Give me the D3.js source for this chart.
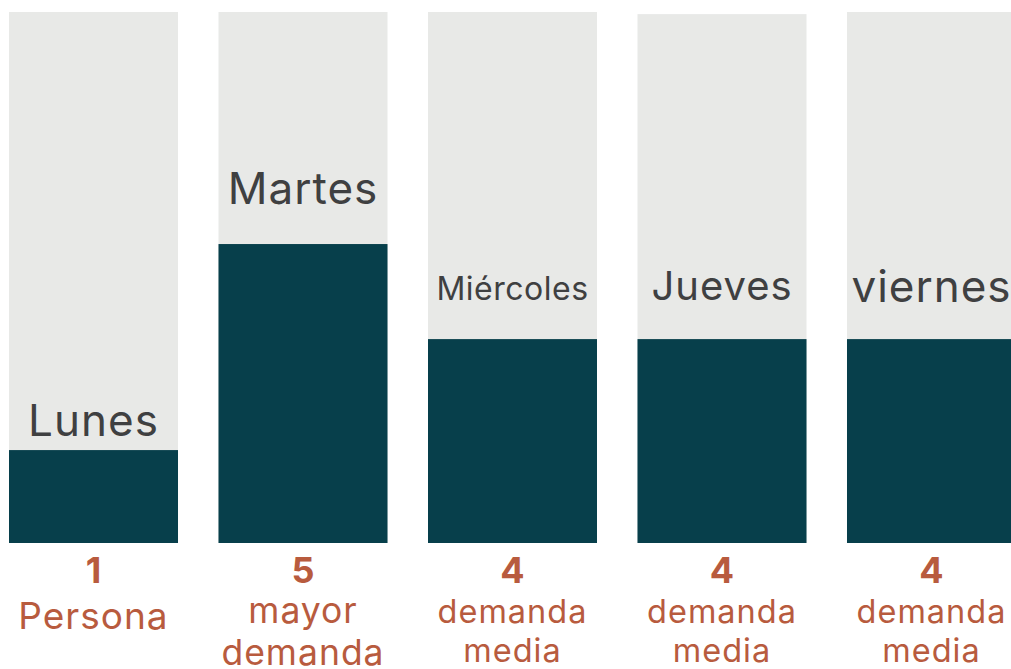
<!DOCTYPE html>
<html>
<head>
<meta charset="utf-8">
<script src="https://cdn.jsdelivr.net/npm/d3@7"></script>
<style>
  body { margin: 0; background: #fff; }
  svg { display: block; font-family: Inter, "Open Sans", sans-serif; }
</style>
</head>
<body>
<div id="container"></div>
<script>
// data
let days = ["Lunes", "Martes", "Miércoles", "Jueves", "viernes"];
let counts = [1, 5, 4, 4, 4];
// filled share of each column (percent)
let fillShare = [17.5, 56.3, 38.4, 38.4, 38.4];
let backShare = [100, 100, 100, 99.6, 100];
let captions = [["Persona"], ["mayor", "demanda"], ["demanda", "media"], ["demanda", "media"], ["demanda", "media"]];

// label styling per column
let dayFont = [44, 44, 32, 40, 44];
let dayGap = [14, 40, 39, 39, 37];
let capFont = [37, 35.5, 32.5, 32.5, 32.5];
let capLead = [40, 42, 39, 39, 39];

let w = 1011;
let h = 669;
let plotTop = 12, plotBase = 543;

let viz = d3.select('#container')
  .append('svg')
  .attr('width', w)
  .attr('height', h);

let xScale = d3.scaleBand()
  .domain(days)
  .range([9, 1016])
  .paddingInner(0.1933)
  .paddingOuter(0);

let yScale = d3.scaleLinear().domain([0, 100]).range([plotBase, plotTop]);

let cols = viz.selectAll('.col')
  .data(days.map((d, i) => ({ day: d, i: i })))
  .enter()
  .append('g')
  .classed('col', true)
  .attr('transform', d => `translate(${xScale(d.day)},0)`);

// background column
cols.append('rect')
  .attr('width', xScale.bandwidth())
  .attr('y', d => yScale(backShare[d.i]))
  .attr('height', d => plotBase - yScale(backShare[d.i]))
  .attr('fill', '#e8e9e7');

// filled part
cols.append('rect')
  .attr('width', xScale.bandwidth())
  .attr('y', d => yScale(fillShare[d.i]))
  .attr('height', d => plotBase - yScale(fillShare[d.i]))
  .attr('fill', '#073f4b');

// day name above the fill
cols.append('text')
  .attr('x', xScale.bandwidth() / 2)
  .attr('y', d => yScale(fillShare[d.i]) - dayGap[d.i])
  .attr('text-anchor', 'middle')
  .attr('font-size', d => dayFont[d.i])
  .attr('letter-spacing', d => d.i == 2 ? 0.5 : 1)
  .attr('fill', '#3f4041')
  .text(d => d.day);

// count under the column
cols.append('text')
  .attr('x', xScale.bandwidth() / 2)
  .attr('y', 583)
  .attr('text-anchor', 'middle')
  .attr('font-size', 36)
  .attr('font-weight', 700)
  .attr('fill', '#b85b3e')
  .text(d => counts[d.i]);

// caption lines
cols.each(function (d) {
  let g = d3.select(this);
  captions[d.i].forEach((line, k) => {
    g.append('text')
      .attr('x', xScale.bandwidth() / 2)
      .attr('y', (d.i == 0 ? 629 : 623) + k * capLead[d.i])
      .attr('text-anchor', 'middle')
      .attr('font-size', capFont[d.i])
      .attr('letter-spacing', 1)
      .attr('fill', '#b85b3e')
      .text(line);
  });
});
</script>
</body>
</html>
